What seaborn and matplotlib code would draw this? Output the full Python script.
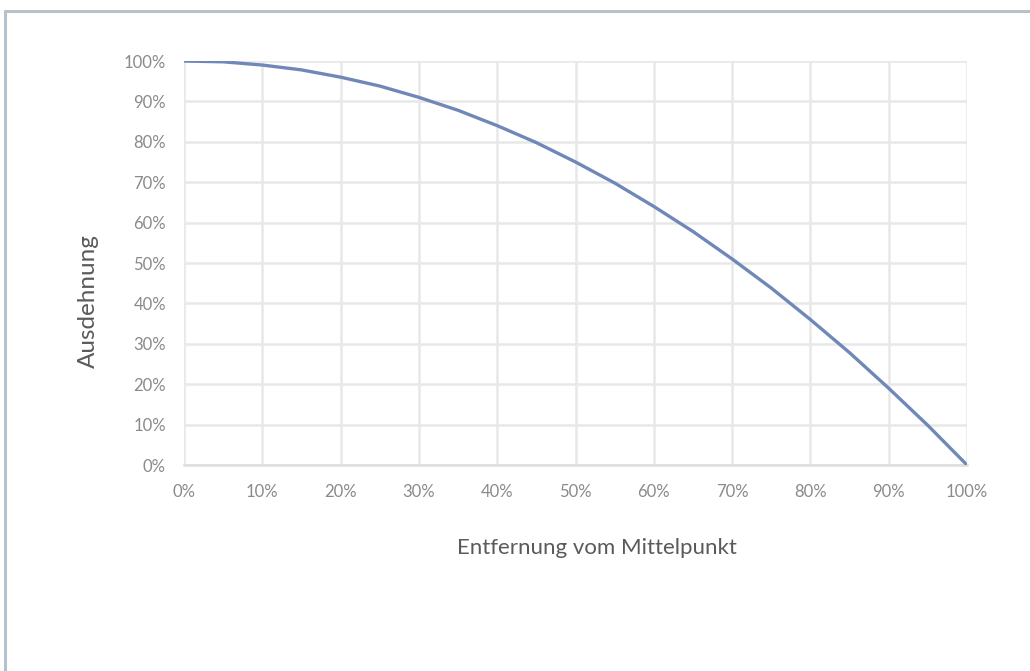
import matplotlib
matplotlib.use("Agg")
import matplotlib.pyplot as plt
import matplotlib.ticker as mticker
from matplotlib.lines import Line2D
import seaborn as sns
import pandas as pd

# Distance from the centre (%) and the corresponding expansion (%)
distance = [0, 5, 10, 15, 20, 25, 30, 35, 40, 45, 50,
            55, 60, 65, 70, 75, 80, 85, 90, 95, 100]
expansion = [100, 99.8, 99, 97.8, 96, 93.8, 91, 87.8, 84, 79.8, 75,
             69.8, 64, 57.8, 51, 43.8, 36, 27.8, 19, 9.8, 0]

x_ticks = [0, 10, 20, 30, 40, 50, 60, 70, 80, 90, 100]
y_ticks = [0, 10, 20, 30, 40, 50, 60, 70, 80, 90, 100]

df = pd.DataFrame({"Entfernung": distance, "Ausdehnung": expansion})

sns.set_theme(style="white")
plt.rcParams["font.family"] = ["Lato", "DejaVu Sans"]

W, H = 1030, 671
fig = plt.figure(figsize=(W / 100, H / 100), dpi=100)
left, right, top, bottom = 184, 967, 61, 465
ax = fig.add_axes([left / W, 1 - bottom / H, (right - left) / W, (bottom - top) / H])

sns.lineplot(data=df, x="Entfernung", y="Ausdehnung", ax=ax,
             color="#7088b8", linewidth=2.4, zorder=3)

ax.set_xlim(0, 100)
ax.set_ylim(0, 100)
ax.set_xticks(x_ticks)
ax.set_yticks(y_ticks)
pct = mticker.FuncFormatter(lambda v, p: f"{int(v)}%")
ax.xaxis.set_major_formatter(pct)
ax.yaxis.set_major_formatter(pct)
ax.grid(True, color="#e8e8e8", linewidth=1.8)
ax.set_axisbelow(True)
for side in ["top", "right", "left"]:
    ax.spines[side].set_visible(False)
ax.spines["bottom"].set_color("#dddddd")
ax.spines["bottom"].set_linewidth(1.8)
ax.tick_params(axis="both", length=0, labelsize=12, labelcolor="#8a8a8a")
ax.tick_params(axis="x", pad=13.5)
ax.tick_params(axis="y", pad=13)

ax.set_xlabel("Entfernung vom Mittelpunkt", fontsize=16, color="#5a5a5a", va="center")
ax.set_ylabel("Ausdehnung", fontsize=17.5, color="#5a5a5a", va="center")
ax.xaxis.set_label_coords((597 - left) / (right - left), (bottom - 548) / (bottom - top))
ax.yaxis.set_label_coords((88 - left) / (right - left), (bottom - 301) / (bottom - top))

# Outer chart frame (top and left edges)
fig.add_artist(Line2D([5 / W, 1.0], [1 - 11 / H, 1 - 11 / H],
                      transform=fig.transFigure, color="#b5c2cc", linewidth=2.2))
fig.add_artist(Line2D([5 / W, 5 / W], [0.0, 1 - 11 / H],
                      transform=fig.transFigure, color="#b5c2cc", linewidth=2.2))

fig.savefig("out.png", dpi=100, facecolor="white")
